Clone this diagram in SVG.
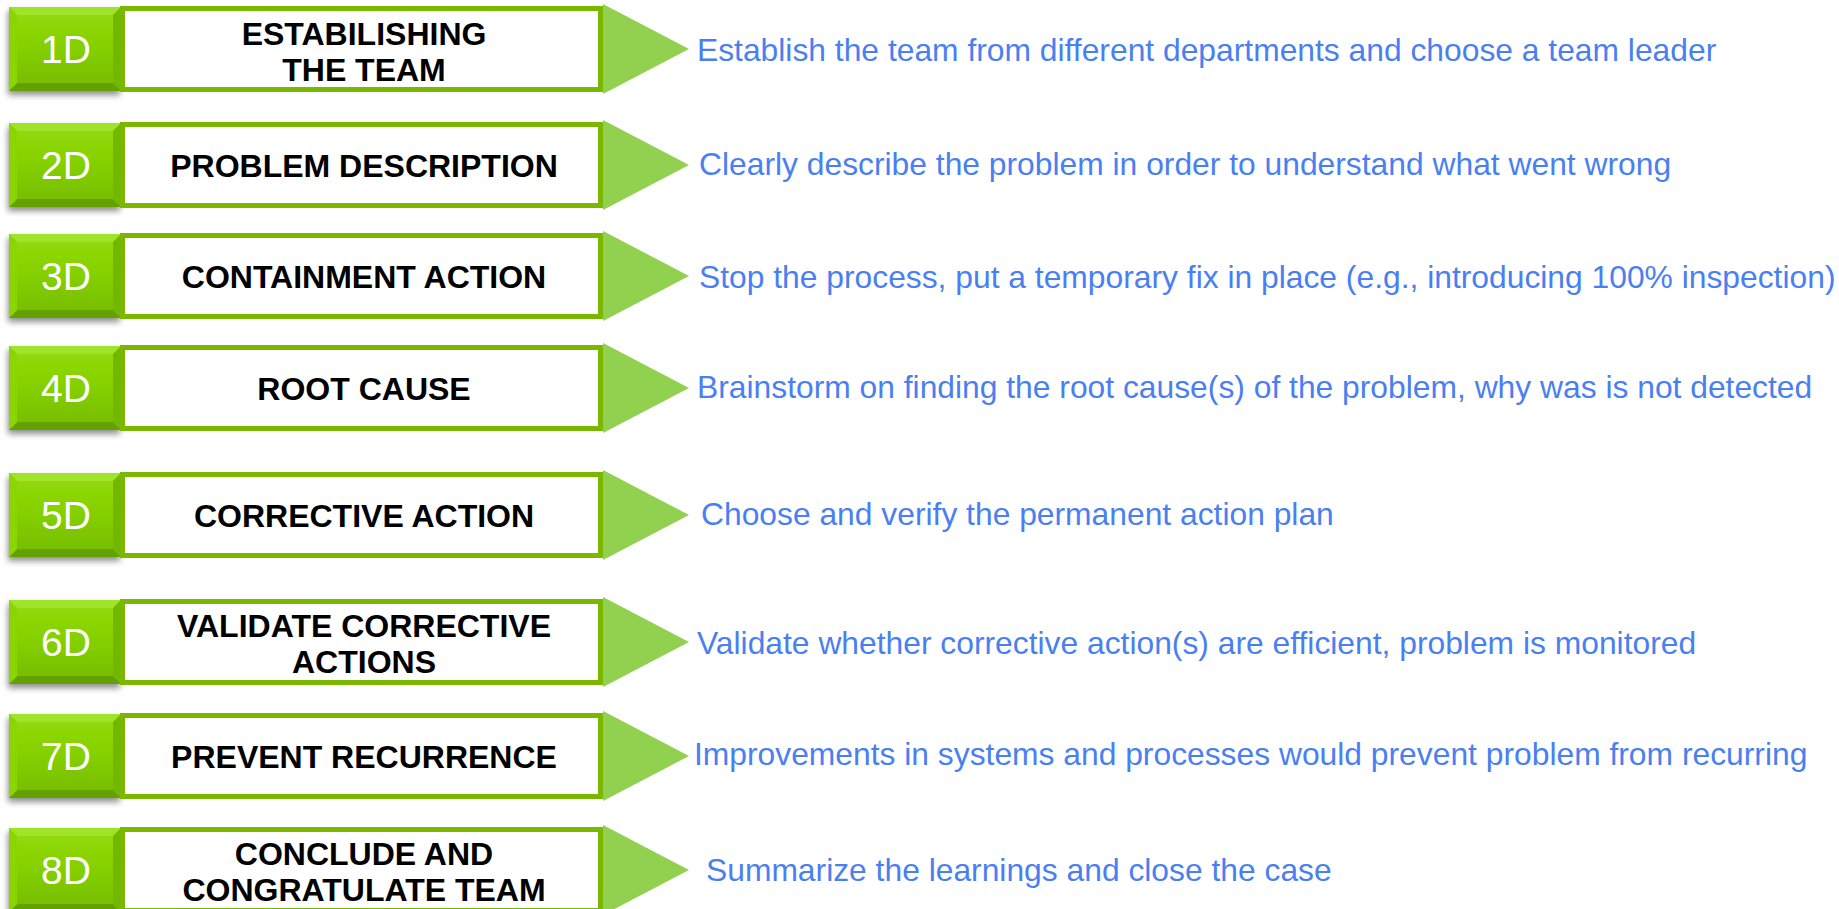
<svg xmlns="http://www.w3.org/2000/svg" width="1839" height="909" viewBox="0 0 1839 909">
<defs>
<linearGradient id="sq" x1="0" y1="0" x2="0" y2="1">
<stop offset="0" stop-color="#93dc0c"/>
<stop offset="0.5" stop-color="#84cf00"/>
<stop offset="1" stop-color="#74bb00"/>
</linearGradient>
<filter id="sh" x="-20%" y="-20%" width="140%" height="150%">
<feGaussianBlur in="SourceAlpha" stdDeviation="3"/>
<feOffset dx="-1" dy="4" result="b"/>
<feComponentTransfer><feFuncA type="linear" slope="0.45"/></feComponentTransfer>
<feMerge><feMergeNode/><feMergeNode in="SourceGraphic"/></feMerge>
</filter>
<g id="badge">
<rect x="9" y="-42" width="112" height="84" fill="url(#sq)" filter="url(#sh)"/>
<polygon points="9,-42 121,-42 113,-34 17,-34" fill="#a3e630" opacity="0.8"/>
<polygon points="9,42 121,42 113,34 17,34" fill="#5f9c00" opacity="0.85"/>
<polygon points="9,-42 17,-34 17,34 9,42" fill="#8bd600"/>
<polygon points="121,-42 113,-34 113,34 121,42" fill="#72b800"/>
</g>
<g id="frame">
<rect x="122.5" y="-40.5" width="478" height="81" fill="#ffffff" stroke="#7ab800" stroke-width="5"/>
<polygon points="603,-45 689,0 603,45" fill="#92d050"/>
</g>
</defs>
<style>
.num{font-family:"Liberation Sans",Arial,sans-serif;font-size:39px;fill:#ffffff;text-anchor:middle}
.lab{font-family:"Liberation Sans",Arial,sans-serif;font-size:32px;font-weight:bold;fill:#000000;text-anchor:middle}
.desc{font-family:"Liberation Sans",Arial,sans-serif;font-size:31.8px;fill:#4a7ff2}
</style>
<g id="connectors"></g>
<g id="step1" transform="translate(0,49)">
<use href="#badge"/><use href="#frame"/>
<text class="num" x="66" y="14">1D</text>
<text class="lab" x="364" y="-4.5">ESTABILISHING</text>
<text class="lab" x="364" y="31.5">THE TEAM</text>
<text class="desc" x="697" y="12">Establish the team from different departments and choose a team leader</text>
</g>
<g id="step2" transform="translate(0,165)">
<use href="#badge"/><use href="#frame"/>
<text class="num" x="66" y="14">2D</text>
<text class="lab" x="364" y="11.5">PROBLEM DESCRIPTION</text>
<text class="desc" x="699" y="10">Clearly describe the problem in order to understand what went wrong</text>
</g>
<g id="step3" transform="translate(0,276)">
<use href="#badge"/><use href="#frame"/>
<text class="num" x="66" y="14">3D</text>
<text class="lab" x="364" y="11.5">CONTAINMENT ACTION</text>
<text class="desc" x="699" y="12">Stop the process, put a temporary fix in place (e.g., introducing 100% inspection)</text>
</g>
<g id="step4" transform="translate(0,388)">
<use href="#badge"/><use href="#frame"/>
<text class="num" x="66" y="14">4D</text>
<text class="lab" x="364" y="11.5">ROOT CAUSE</text>
<text class="desc" x="697" y="10">Brainstorm on finding the root cause(s) of the problem, why was is not detected</text>
</g>
<g id="step5" transform="translate(0,515)">
<use href="#badge"/><use href="#frame"/>
<text class="num" x="66" y="14">5D</text>
<text class="lab" x="364" y="11.5">CORRECTIVE ACTION</text>
<text class="desc" x="701" y="10">Choose and verify the permanent action plan</text>
</g>
<g id="step6" transform="translate(0,642)">
<use href="#badge"/><use href="#frame"/>
<text class="num" x="66" y="14">6D</text>
<text class="lab" x="364" y="-5">VALIDATE CORRECTIVE</text>
<text class="lab" x="364" y="31">ACTIONS</text>
<text class="desc" x="697" y="12">Validate whether corrective action(s) are efficient, problem is monitored</text>
</g>
<g id="step7" transform="translate(0,756)">
<use href="#badge"/><use href="#frame"/>
<text class="num" x="66" y="14">7D</text>
<text class="lab" x="364" y="11.5">PREVENT RECURRENCE</text>
<text class="desc" x="694" y="9">Improvements in systems and processes would prevent problem from recurring</text>
</g>
<g id="step8" transform="translate(0,870)">
<use href="#badge"/><use href="#frame"/>
<text class="num" x="66" y="14">8D</text>
<text class="lab" x="364" y="-5">CONCLUDE AND</text>
<text class="lab" x="364" y="31">CONGRATULATE TEAM</text>
<text class="desc" x="706" y="11">Summarize the learnings and close the case</text>
</g>
</svg>
